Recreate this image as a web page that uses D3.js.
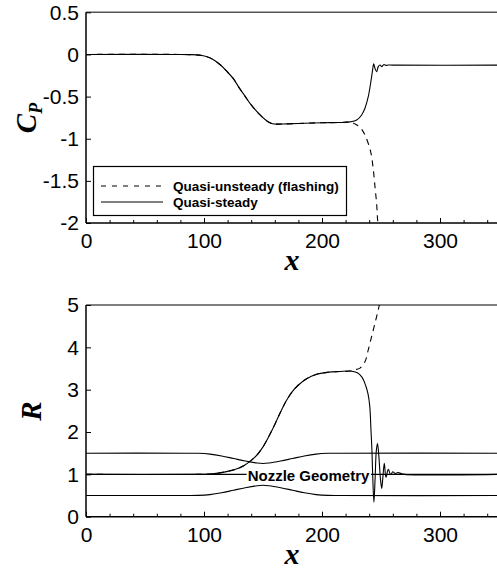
<!DOCTYPE html>
<html><head><meta charset="utf-8">
<script src="https://cdn.jsdelivr.net/npm/d3@7"></script>
<style>body{margin:0;background:#fff}svg{display:block}</style>
</head><body>
<svg id="c" width="497" height="573"></svg>
<script>
// ---- data ----
const cpTicks = [0.5, 0, -0.5, -1, -1.5, -2];
const cpTickLabels = ["0.5", "0", "-0.5", "-1", "-1.5", "-2"];
const rTicks = [0, 1, 2, 3, 4, 5];
const rTickLabels = ["0", "1", "2", "3", "4", "5"];
const xTicks = [0, 100, 200, 300];
const xTickLabels = ["0", "100", "200", "300"];
const xMinorTicks = [20,40,60,80,120,140,160,180,220,240,260,280,320,340];
const legendLabels = ["Quasi-unsteady (flashing)", "Quasi-steady"];

const cpSteadyX = [0, 80, 88, 96, 102, 108, 114, 119, 125, 130, 135, 139, 143, 147.5, 152, 155, 158, 162, 170, 185, 200, 215, 224, 229.4, 233.6, 236.4, 239.2, 241.2, 242.9, 243.8, 244.9, 246.3, 247.7, 249.2, 250.6, 252.5, 254.2, 256.2, 260, 350];
const cpSteadyY = [0, 0, -0.002, -0.008, -0.025, -0.062, -0.125, -0.195, -0.29, -0.4, -0.5, -0.58, -0.65, -0.718, -0.775, -0.805, -0.822, -0.827, -0.824, -0.816, -0.81, -0.808, -0.80, -0.778, -0.718, -0.639, -0.501, -0.342, -0.184, -0.11, -0.165, -0.205, -0.145, -0.125, -0.145, -0.12, -0.13, -0.125, -0.127, -0.127];
const cpUnsteadyX = [0, 80, 88, 96, 102, 108, 114, 119, 125, 130, 135, 139, 143, 147.5, 152, 155, 158, 162, 170, 185, 200, 215, 224, 228, 232.2, 236.4, 241.2, 243.5, 244.9, 246.3, 247.1, 247.5];
const cpUnsteadyY = [0, 0, -0.002, -0.008, -0.025, -0.062, -0.125, -0.195, -0.29, -0.4, -0.5, -0.58, -0.65, -0.718, -0.775, -0.805, -0.822, -0.827, -0.824, -0.816, -0.81, -0.808, -0.805, -0.825, -0.864, -0.955, -1.154, -1.37, -1.57, -1.77, -1.96, -2.0];

const rSteadyX = [0, 95, 105, 112, 120, 128, 134, 140, 145, 150, 155, 160, 165, 170, 175, 180, 187, 195, 205, 215, 224, 230, 234, 237, 239, 240.5, 241.5, 242.3, 243, 244, 245, 246, 247, 248, 249.5, 250.6, 251.5, 252.8, 254.2, 256.2, 258.2, 260, 262, 264.5, 267, 270, 350];
const rSteadyY = [1.0, 1.0, 1.01, 1.03, 1.07, 1.13, 1.21, 1.33, 1.46, 1.65, 1.9, 2.18, 2.48, 2.75, 2.96, 3.11, 3.26, 3.36, 3.41, 3.43, 3.44, 3.40, 3.29, 3.1, 2.9, 2.6, 2.05, 1.58, 0.95, 0.34, 0.9, 1.55, 1.73, 1.5, 0.9, 0.67, 0.9, 1.26, 0.93, 1.12, 0.99, 1.06, 1.02, 1.04, 1.02, 1.0, 1.0];
const rUnsteadyX = [0, 95, 105, 112, 120, 128, 134, 140, 145, 150, 155, 160, 165, 170, 175, 180, 187, 195, 205, 215, 224, 228, 232.2, 236.4, 239.2, 242.1, 244.9, 247.7, 248.6];
const rUnsteadyY = [1.0, 1.0, 1.01, 1.03, 1.07, 1.13, 1.21, 1.33, 1.46, 1.65, 1.9, 2.18, 2.48, 2.75, 2.96, 3.11, 3.26, 3.36, 3.41, 3.43, 3.44, 3.47, 3.51, 3.66, 3.94, 4.26, 4.57, 4.89, 5.0];

const wallX = [0, 85, 95, 105, 115, 125, 135, 145, 150, 155, 165, 175, 185, 195, 205, 215, 350];
const wallUpper = [1.5, 1.5, 1.497, 1.478, 1.435, 1.375, 1.315, 1.268, 1.258, 1.268, 1.315, 1.375, 1.435, 1.478, 1.497, 1.5, 1.5];
const wallLower = [0.5, 0.5, 0.503, 0.522, 0.565, 0.625, 0.685, 0.732, 0.742, 0.732, 0.685, 0.625, 0.565, 0.522, 0.503, 0.5, 0.5];
const centerX = [0, 350];
const centerY = [1.0, 1.0];

// ---- drawing ----
const svg = d3.select("#c");
const x = d3.scaleLinear().domain([0, 350]).range([86, 499]);
const yCp = d3.scaleLinear().domain([-2, 0.5]).range([223, 12.3]);
const yR = d3.scaleLinear().domain([0, 5]).range([516.7, 305]);
const zip = (a, b) => a.map((v, i) => [v, b[i]]);
const FONT = "Liberation Sans, Arial, sans-serif";
const SERIF = "Liberation Serif, Times New Roman, serif";

function panel(y, yTicks, yLabels, yTitle, sub, titleY, titleX, clipId) {
  const g = svg.append("g");
  const top = y.range()[1], bot = y.range()[0];
  svg.append("clipPath").attr("id", clipId).append("rect")
    .attr("x", 86).attr("y", top - 1).attr("width", 420).attr("height", bot - top + 2);
  g.append("line").attr("x1", 86).attr("x2", 497).attr("y1", top).attr("y2", top)
    .attr("stroke", "#555").attr("stroke-width", 1.6);
  const xa = g.append("g").attr("transform", `translate(0,${bot})`)
    .call(d3.axisBottom(x).tickValues(xTicks).tickFormat((d, i) => xTickLabels[i])
      .tickSizeInner(-5).tickSizeOuter(0).tickPadding(10));
  xa.select(".domain").remove();
  xa.selectAll("text").attr("font-family", FONT).attr("font-size", 21).attr("fill", "#000");
  xa.selectAll("line").attr("stroke", "#000");
  const xm = g.append("g").attr("transform", `translate(0,${bot})`)
    .call(d3.axisBottom(x).tickValues(xMinorTicks).tickFormat("").tickSizeInner(-3).tickSizeOuter(0));
  xm.select(".domain").remove();
  xm.selectAll("line").attr("stroke", "#000");
  g.append("line").attr("x1", 86).attr("x2", 497).attr("y1", bot).attr("y2", bot)
    .attr("stroke", "#000").attr("stroke-width", 1.5);
  const ya = g.append("g").attr("transform", "translate(86,0)")
    .call(d3.axisLeft(y).tickValues(yTicks).tickFormat((d, i) => yLabels[i])
      .tickSizeInner(-5).tickSizeOuter(0).tickPadding(7));
  ya.select(".domain").remove();
  ya.selectAll("text").attr("font-family", FONT).attr("font-size", 21).attr("fill", "#000");
  ya.selectAll("line").attr("stroke", "#000");
  g.append("line").attr("x1", 86).attr("x2", 86).attr("y1", top).attr("y2", bot)
    .attr("stroke", "#000").attr("stroke-width", 1.5);
  g.append("text").attr("x", 292).attr("y", bot + 47).attr("text-anchor", "middle")
    .attr("font-family", SERIF).attr("font-weight", "bold")
    .attr("font-style", "italic").attr("font-size", 30).text("x");
  const t = g.append("text").attr("transform", `translate(${titleX},${titleY}) rotate(-90)`)
    .attr("text-anchor", "middle")
    .attr("font-family", SERIF).attr("font-weight", "bold")
    .attr("font-style", "italic").attr("font-size", 29);
  t.append("tspan").text(yTitle);
  if (sub) t.append("tspan").attr("font-size", 18).attr("dy", 6).text(sub);
  return g.append("g").attr("clip-path", `url(#${clipId})`);
}

const line = (yS) => d3.line().x(d => x(d[0])).y(d => yS(d[1])).curve(d3.curveCatmullRom.alpha(0.5));

const g1 = panel(yCp, cpTicks, cpTickLabels, "C", "P", 118, 36, "clip1");
g1.append("path").attr("d", line(yCp)(zip(cpUnsteadyX, cpUnsteadyY)))
  .attr("fill", "none").attr("stroke", "#000").attr("stroke-width", 1.1).attr("stroke-dasharray", "6,5");
g1.append("path").attr("d", line(yCp)(zip(cpSteadyX, cpSteadyY)))
  .attr("fill", "none").attr("stroke", "#000").attr("stroke-width", 1.1);

// legend
const lg = svg.append("g");
lg.append("rect").attr("x", 93.5).attr("y", 166.5).attr("width", 253).attr("height", 49)
  .attr("fill", "#fff").attr("stroke", "#000").attr("stroke-width", 1.2);
[0, 1].forEach(i => {
  const yy = 186 + i * 16;
  lg.append("line").attr("x1", 101).attr("x2", 163).attr("y1", yy).attr("y2", yy)
    .attr("stroke", "#000").attr("stroke-width", 1).attr("stroke-dasharray", i === 0 ? "5,6" : null);
  lg.append("text").attr("x", 173).attr("y", yy + 5).attr("font-family", FONT)
    .attr("font-weight", "bold").attr("font-size", 13.5).text(legendLabels[i]);
});

const g2 = panel(yR, rTicks, rTickLabels, "R", null, 411, 41, "clip2");
[wallUpper, wallLower].forEach(w => {
  g2.append("path").attr("d", line(yR)(zip(wallX, w)))
    .attr("fill", "none").attr("stroke", "#000").attr("stroke-width", 1.1);
});
g2.append("path").attr("d", line(yR)(zip(centerX, centerY)))
  .attr("fill", "none").attr("stroke", "#000").attr("stroke-width", 1.1);
g2.append("path").attr("d", line(yR)(zip(rUnsteadyX, rUnsteadyY)))
  .attr("fill", "none").attr("stroke", "#000").attr("stroke-width", 1.1).attr("stroke-dasharray", "6,5");
g2.append("path").attr("d", line(yR)(zip(rSteadyX, rSteadyY)))
  .attr("fill", "none").attr("stroke", "#000").attr("stroke-width", 1.1);
const bgRect = svg.append("rect").attr("fill", "#fff");
const lab = svg.append("text").attr("x", 308.5).attr("y", 481).attr("text-anchor", "middle")
  .attr("font-family", FONT).attr("font-weight", "bold")
  .attr("font-size", 15).text("Nozzle Geometry");
const bb = lab.node().getBBox();
bgRect.attr("x", bb.x - 1).attr("y", 469).attr("width", bb.width + 2).attr("height", 14);
</script>
</body></html>
